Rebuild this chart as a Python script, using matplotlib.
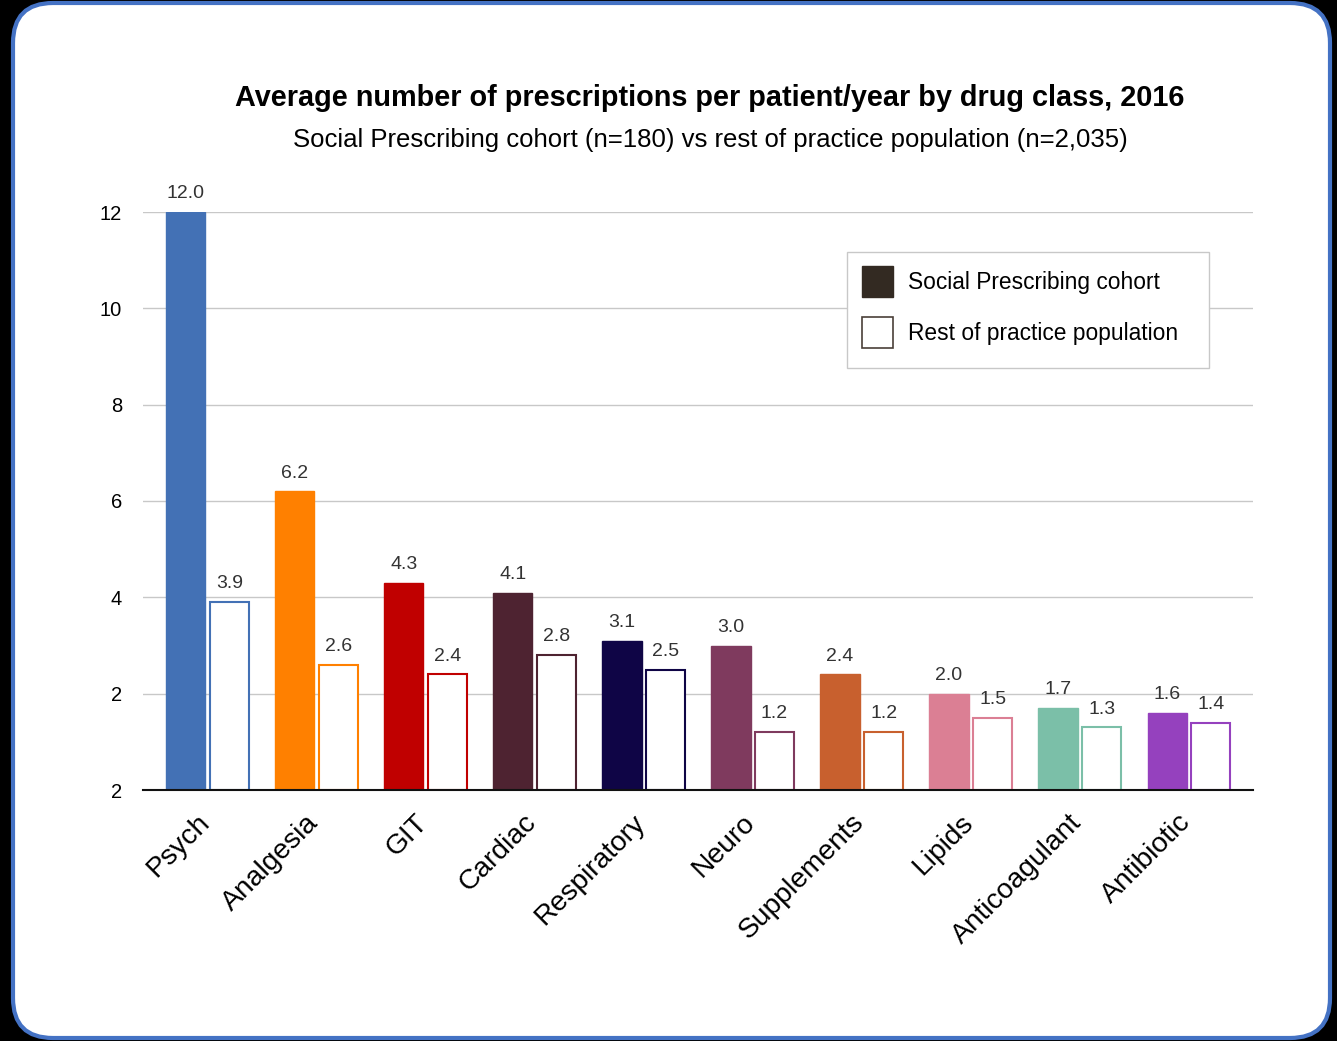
import matplotlib
matplotlib.use("Agg")
import matplotlib.pyplot as plt
from matplotlib.patches import FancyBboxPatch, Patch, Rectangle
from matplotlib.transforms import ScaledTranslation
import numpy as np

plt.rcParams['font.family'] = ['Liberation Sans', 'DejaVu Sans']

categories = ["Psych", "Analgesia", "GIT", "Cardiac", "Respiratory", "Neuro",
              "Supplements", "Lipids", "Anticoagulant", "Antibiotic"]
cohort = [12.0, 6.2, 4.3, 4.1, 3.1, 3.0, 2.4, 2.0, 1.7, 1.6]
rest = [3.9, 2.6, 2.4, 2.8, 2.5, 1.2, 1.2, 1.5, 1.3, 1.4]
colors = ["#4371B5", "#FF8000", "#C00000", "#4E2331", "#0F0546", "#7F3A5E",
          "#C8602E", "#DB7F94", "#7BBFA8", "#9541BE"]
ytick_values = [0, 2, 4, 6, 8, 10, 12]
ytick_labels = ["2", "2", "4", "6", "8", "10", "12"]

fig = plt.figure(figsize=(13.37, 10.41), dpi=100, facecolor="black")

# rounded white panel with blue border
panel = FancyBboxPatch((0.13 + 0.4, 0.03 + 0.4), 13.17 - 0.8, 10.35 - 0.8,
                       boxstyle="round,pad=0.4,rounding_size=0.4",
                       transform=fig.dpi_scale_trans, facecolor="white",
                       edgecolor="#4472C4", linewidth=3, zorder=-10)
fig.patches.append(panel)

ax = fig.add_axes([143 / 1337, 1 - 790 / 1041, 1110 / 1337, 578 / 1041], zorder=5)
ax.set_facecolor("none")

x = np.arange(len(categories))
w = 0.36
off = 0.2
ax.bar(x - off, cohort, width=w, color=colors, edgecolor=colors, linewidth=1, zorder=3)
ax.bar(x + off, rest, width=w, color="white", edgecolor=colors, linewidth=1.5, zorder=3)

for xi, v in zip(x, cohort):
    ax.annotate(f"{v:.1f}", (xi - off, v), xytext=(0, 7), textcoords="offset points",
                ha="center", va="bottom", fontsize=14, color="#333333", annotation_clip=False)
for xi, v in zip(x, rest):
    ax.annotate(f"{v:.1f}", (xi + off, v), xytext=(0, 7), textcoords="offset points",
                ha="center", va="bottom", fontsize=14, color="#333333", annotation_clip=False)

ax.set_xlim(-0.591, 9.587)
ax.set_ylim(0, 12)
ax.set_yticks(ytick_values)
ax.set_yticklabels(ytick_labels, fontsize=14.5)
ax.tick_params(axis="y", length=0, pad=15)
ax.grid(axis="y", color="#C8C8C8", linewidth=1, zorder=0)
ax.set_axisbelow(True)

ax.set_xticks(x)
ax.set_xticklabels(categories, rotation=45, ha="right", rotation_mode="anchor", fontsize=20.3)
ax.tick_params(axis="x", length=0, pad=14)
shift = ScaledTranslation(-11 / 100, 0, fig.dpi_scale_trans)
for lbl in ax.get_xticklabels():
    lbl.set_transform(lbl.get_transform() + shift)

for s in ["top", "right", "left"]:
    ax.spines[s].set_visible(False)
ax.spines["bottom"].set_color("#111111")
ax.spines["bottom"].set_linewidth(1.5)
ax.spines["bottom"].set_zorder(4)

# legend box
leg_box = Rectangle(((847 - 143) / 1110, (790 - 368) / 578), 362 / 1110, 116 / 578,
                    transform=ax.transAxes, facecolor="white", edgecolor="#C8C8C8",
                    linewidth=1, zorder=6, clip_on=False)
ax.add_patch(leg_box)

handles = [Patch(facecolor="#332A22", edgecolor="#332A22", label="Social Prescribing cohort"),
           Patch(facecolor="white", edgecolor="#4A3F38", linewidth=1.2, label="Rest of practice population")]
leg = ax.legend(handles=handles, loc="upper left",
                bbox_to_anchor=((862 - 143) / 1110, (790 - 266) / 578),
                fontsize=16.4, frameon=False,
                handlelength=1.36, handleheight=1.715, labelspacing=0.88, handletextpad=0.68,
                borderpad=0, borderaxespad=0)
leg.set_zorder(7)

fig.text(710 / 1337, 1 - 98 / 1041, "Average number of prescriptions per patient/year by drug class, 2016",
         ha="center", va="center", fontsize=20.8, fontweight="bold")
fig.text(710 / 1337, 1 - 140 / 1041, "Social Prescribing cohort (n=180) vs rest of practice population (n=2,035)",
         ha="center", va="center", fontsize=18.5)

fig.savefig("out.png", dpi=100, facecolor="black")
